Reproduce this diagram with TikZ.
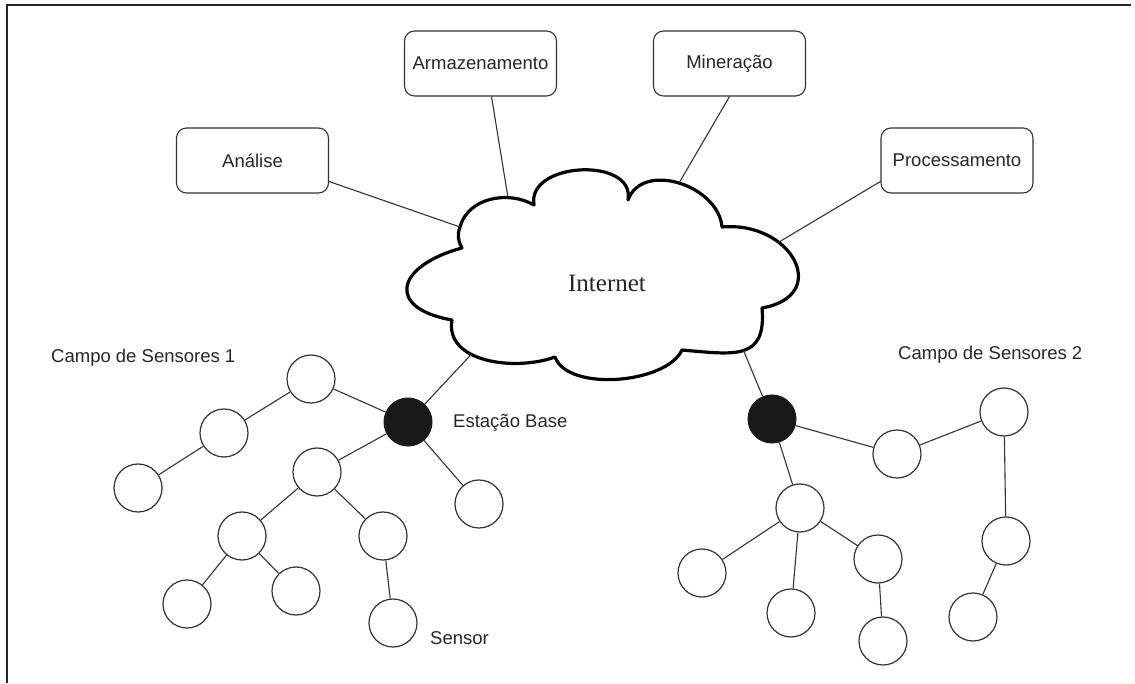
\documentclass[tikz,border=0pt]{standalone}
\usepackage{fontspec}
\setmainfont{Liberation Sans}
\newfontfamily\inetfont{Liberation Serif}
\begin{document}
\begin{tikzpicture}[x=1pt,y=1pt,
  box/.style={draw=black!80, line width=1.1pt, rounded corners=10pt, minimum width=152pt, minimum height=65pt, font=\fontsize{18.5}{20}\selectfont, text=black!85, fill=white},
  sens/.style={circle, draw=black!80, line width=1.2pt, minimum size=48pt, inner sep=0pt, fill=white},
  base/.style={circle, fill=black!90, draw=black!90, line width=1pt, minimum size=48pt, inner sep=0pt},
  link/.style={draw=black!80, line width=1.1pt},
  lbl/.style={font=\fontsize{18.5}{20}\selectfont, inner sep=0pt, text=black!85},
  cloudline/.style={draw=black, line width=3.2pt, fill=white, line join=round},
]
\useasboundingbox (0,0) rectangle (1135,683);
% frame
\draw[line width=2.2pt, black!85] (7,0) -- (7,678) -- (1131,678);

% cloud
\path[cloudline] (534,478) coordinate (p9)
  to[out=100,in=80,looseness=1.2] (628,483) coordinate (p8)
  to[out=70,in=95,looseness=1.1] node[coordinate,pos=0.5] (cM) {} (722,456) coordinate (p7)
  to[out=5,in=10,looseness=2] node[coordinate,pos=0.33] (cP) {} (762,375) coordinate (p6)
  to[out=-85,in=-5,looseness=1.5] node[coordinate,pos=0.5] (cBS2) {} (682,333) coordinate (p5)
  to[out=-115,in=-70,looseness=0.75] (555,326) coordinate (p4)
  to[out=-160,in=-100,looseness=1] node[coordinate,pos=0.62] (cBS1) {} (452,363) coordinate (p3)
  to[out=170,in=195,looseness=2.4] (462,435) coordinate (p2)
  to[out=120,in=250,looseness=1] (460,456) coordinate (cA)
  to[out=75,in=150,looseness=1] node[coordinate,pos=0.7] (cAr) {} (p9) -- cycle;
\node[font=\inetfont\fontsize{25}{28}\selectfont, text=black!85] (inet) at (607,400) {Internet};

% service boxes
\node[box] (ana) at (252.5,522.5) {Análise};
\node[box] (arm) at (480.5,619.5) {Armazenamento};
\node[box] (min) at (729.5,619.5) {Mineração};
\node[box] (pro) at (957,522.5) {Processamento};

\draw[link] ([yshift=-21pt]ana.east) -- (cA);
\draw[link] ([xshift=11pt]arm.south) -- (cAr);
\draw[link] (min.south) -- (cM);
\draw[link] ([yshift=-21pt]pro.west) -- (cP);

% sensor field 1
\node[base] (bs1) at (408,261) {};
\node[sens] (a) at (311,304) {};
\node[sens] (b) at (224,250) {};
\node[sens] (c) at (138,195) {};
\node[sens] (d) at (317,211) {};
\node[sens] (e) at (479,179) {};
\node[sens] (f) at (242,147) {};
\node[sens] (g) at (383,147) {};
\node[sens] (h) at (187,79) {};
\node[sens] (i) at (296,92) {};
\node[sens] (j) at (393,60) {};

\draw[link] (bs1) -- (cBS1);
\draw[link] (a) -- (bs1);
\draw[link] (a) -- (b);
\draw[link] (b) -- (c);
\draw[link] (bs1) -- (d);
\draw[link] (bs1) -- (e);
\draw[link] (d) -- (f);
\draw[link] (d) -- (g);
\draw[link] (f) -- (h);
\draw[link] (f) -- (i);
\draw[link] (g) -- (j);

% sensor field 2
\node[base] (bs2) at (772,264) {};
\node[sens] (k) at (897,229) {};
\node[sens] (l) at (1004,271) {};
\node[sens] (m) at (800,175) {};
\node[sens] (n) at (702,110) {};
\node[sens] (o) at (791,70) {};
\node[sens] (p) at (878,124) {};
\node[sens] (q) at (883,42) {};
\node[sens] (r) at (1006,142) {};
\node[sens] (s) at (973,66) {};

\draw[link] (cBS2) -- (bs2);
\draw[link] (bs2) -- (k);
\draw[link] (k) -- (l);
\draw[link] (l) -- (r);
\draw[link] (r) -- (s);
\draw[link] (bs2) -- (m);
\draw[link] (m) -- (n);
\draw[link] (m) -- (o);
\draw[link] (m) -- (p);
\draw[link] (p) -- (q);

% labels
\node[lbl, anchor=west] (f1) at (51,325) {Campo de Sensores 1};
\node[lbl, anchor=west] (f2) at (898,328) {Campo de Sensores 2};
\node[lbl, anchor=west] (eb) at (453,260) {Estação Base};
\node[lbl, anchor=west] (sl) at (430,45) {Sensor};
\end{tikzpicture}
\end{document}
